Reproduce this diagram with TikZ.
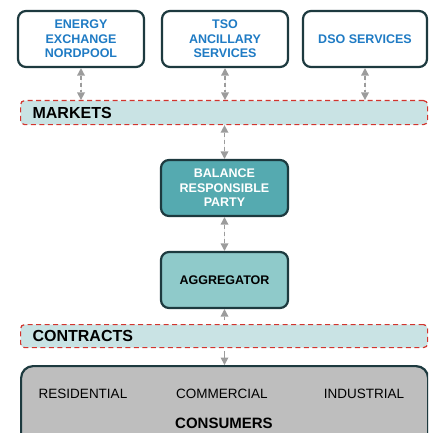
\documentclass[tikz,border=0pt]{standalone}
\usepackage{fontspec}
\setmainfont{Liberation Sans}
\usetikzlibrary{arrows.meta}
\definecolor{frameDark}{HTML}{1D3A3F}
\definecolor{labelBlue}{HTML}{1F7BC4}
\definecolor{brpTeal}{HTML}{55AAB0}
\definecolor{aggTeal}{HTML}{8FCACA}
\definecolor{bandCyan}{HTML}{C9E3E4}
\definecolor{bandRed}{HTML}{D2352E}
\definecolor{linkGray}{HTML}{9C9C9C}
\definecolor{consGray}{HTML}{BEBEBE}
\begin{document}
\begin{tikzpicture}[%%
  x=1pt,y=-1pt,%%
  boxStyle/.style={draw=frameDark,line width=2.2pt,rounded corners=8pt,%%
    minimum width=126pt,minimum height=56pt,align=center,%%
    font=\fontsize{12.5}{14.5}\selectfont\bfseries},%%
  serviceStyle/.style={boxStyle,fill=white,text=labelBlue},%%
  bandStyle/.style={draw=bandRed,fill=bandCyan,line width=1.2pt,%%
    dash pattern=on 5pt off 3.5pt,rounded corners=4pt,anchor=north west,%%
    minimum width=407pt,inner xsep=12pt,text width=383pt,align=left,%%
    font=\fontsize{16}{19}\selectfont\bfseries},%%
  tipStyle/.tip={Triangle[width=8pt,length=7.5pt,line width=0pt]},%%
  linkStyle/.style={draw=linkGray,fill=linkGray,line width=1.4pt,%%
    dash pattern=on 4pt off 3pt,tipStyle-tipStyle},%%
  itemStyle/.style={font=\fontsize{13.5}{16}\selectfont},%%
]
%%
%%
\pgfmathsetmacro{\bandLeft}{20}
\useasboundingbox (0,0) rectangle (428,433);
\clip (0,0) rectangle (428,433);
%% The three service providers on top.
\node[serviceStyle] (energy) at (81,39) {ENERGY\\EXCHANGE\\NORDPOOL};
\node[serviceStyle] (tso) at (225,39) {TSO\\ANCILLARY\\SERVICES};
\node[serviceStyle,minimum width=124pt] (dso) at (365,39) {DSO SERVICES};
%% The two dashed bands.
\node[bandStyle,minimum height=24pt] (markets) at (\bandLeft,100) {MARKETS};
\node[bandStyle,minimum height=23pt] (contracts) at (\bandLeft,324) {CONTRACTS};
%% The middle chain.
\node[boxStyle,fill=brpTeal,text=white,minimum width=127pt] (brp) at (224.5,188)
  {BALANCE\\RESPONSIBLE\\PARTY};
\node[boxStyle,fill=aggTeal,text=black,minimum width=127pt] (agg) at (224.5,280)
  {AGGREGATOR};
%% The consumers at the bottom.
\node[draw=frameDark,fill=consGray,line width=2.2pt,rounded corners=12pt,%%
  anchor=north west,minimum width=407pt,minimum height=110pt] (consumers) at (\bandLeft,365) {};
\node[itemStyle] (residential) at (83,394) {RESIDENTIAL};
\node[itemStyle] (commercial) at (222,394) {COMMERCIAL};
\node[itemStyle] (industrial) at (364,394) {INDUSTRIAL};
\node[font=\fontsize{15}{18}\selectfont\bfseries] (consumersLabel) at (224,423) {CONSUMERS};
%% The links between them.
\draw[linkStyle] (energy.south) -- (energy.south |- markets.north);
\draw[linkStyle] (tso.south) -- (tso.south |- markets.north);
\draw[linkStyle] (dso.south) -- (dso.south |- markets.north);
\draw[linkStyle] (brp.north |- markets.south) -- (brp.north);
\draw[linkStyle] (brp.south) -- (agg.north);
\draw[linkStyle,tipStyle-,dash pattern=] (agg.south) -- ++(0,11);
\draw[linkStyle,-tipStyle,dash pattern=] (consumers.north -| agg.south) ++(0,-14) -- (consumers.north -| agg.south);
\end{tikzpicture}
\end{document}
